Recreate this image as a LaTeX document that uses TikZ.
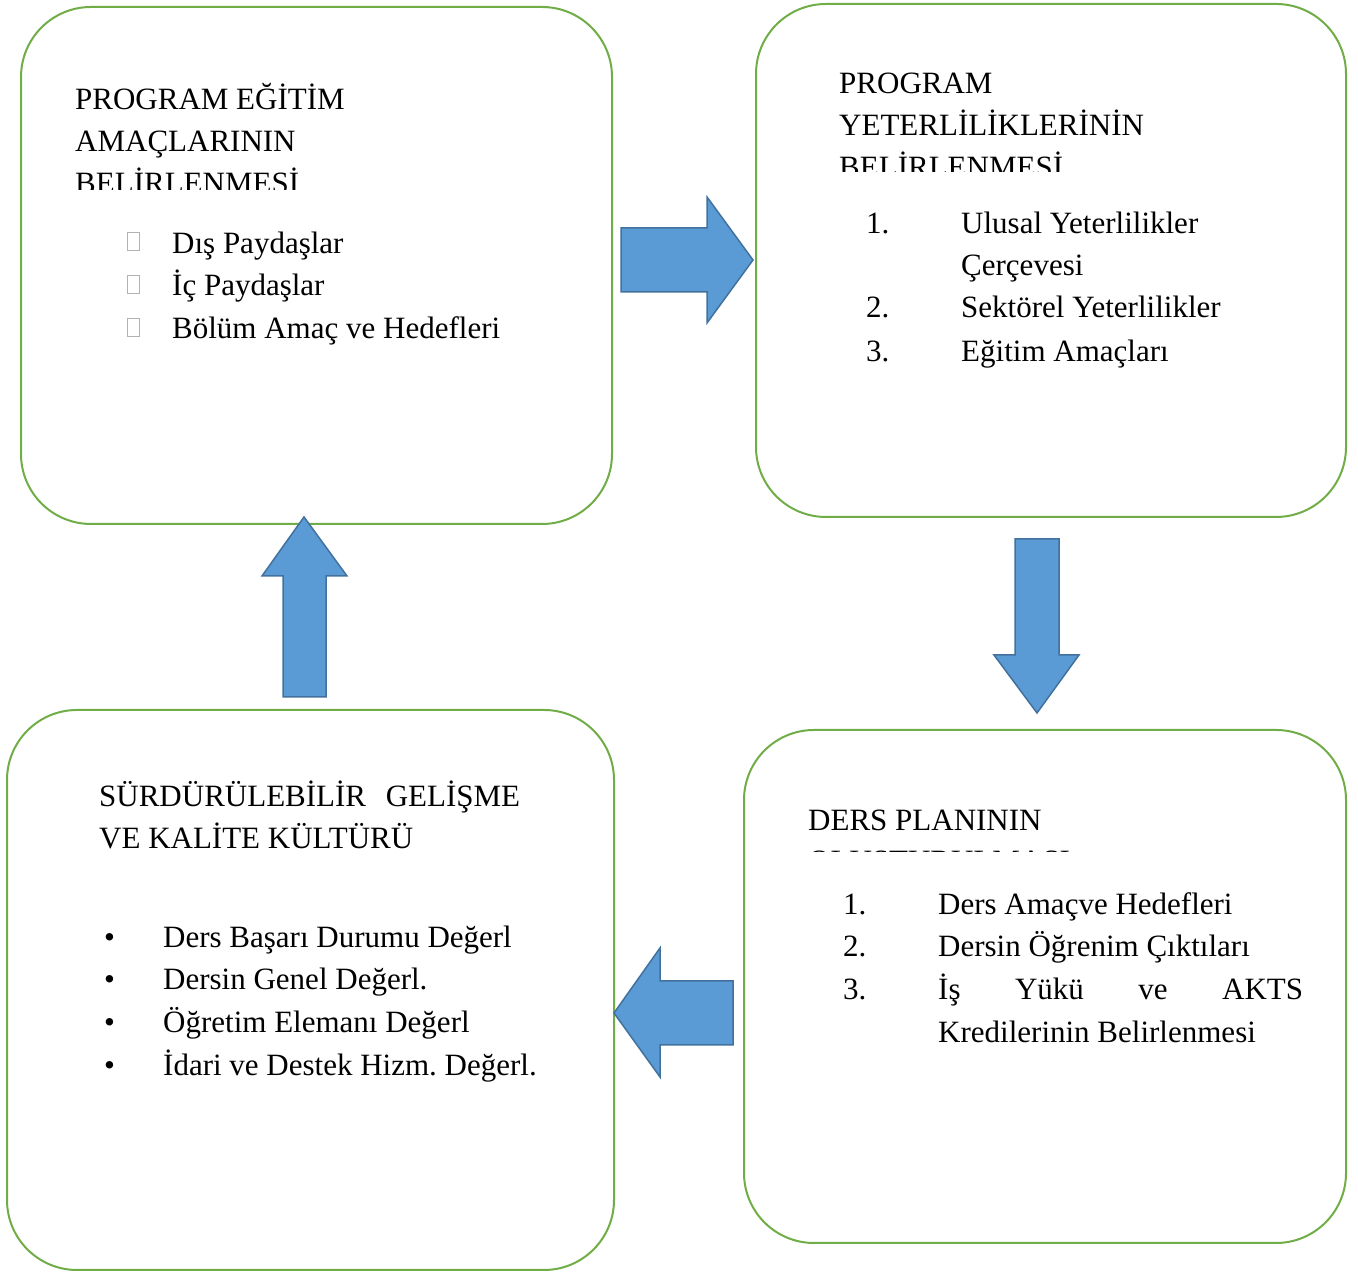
\documentclass[tikz,border=0pt]{standalone}
\usepackage{fontspec}
\setmainfont{Liberation Serif}
\frenchspacing

\definecolor{boxgreen}{HTML}{70AD47}
\definecolor{arrowblue}{HTML}{5B9BD5}
\definecolor{arrowedge}{HTML}{41719C}

\tikzset{
  stagebox/.style={draw=boxgreen, line width=2pt, rounded corners=70pt, inner sep=0pt},
  blockarrow/.style={fill=arrowblue, draw=arrowedge, line width=1.5pt, line join=miter},
  txt/.style={anchor=base west, inner sep=0pt},
  tofu/.style={draw=gray!60, line width=0.8pt, minimum width=12pt, minimum height=18pt, inner sep=0pt}
}

\begin{document}
\begin{tikzpicture}[x=1pt, y=1pt, font=\fontsize{31}{38}\selectfont]
\useasboundingbox (0,0) rectangle (1358,1273);

% the four stages
\node[stagebox, minimum width=591pt, minimum height=517pt] (amac) at (316.5,1007.5) {};
\node[stagebox, minimum width=590pt, minimum height=513pt] (yeter) at (1051,1012.5) {};
\node[stagebox, minimum width=602pt, minimum height=513pt] (ders) at (1045,286.5) {};
\node[stagebox, minimum width=607pt, minimum height=560pt] (kalite) at (310.5,283) {};

% block arrows between the stages
\draw[blockarrow] (621,1045) -- (707,1045) -- (707,1076) -- (753,1013) -- (707,950) -- (707,981) -- (621,981) -- cycle;
\draw[blockarrow] (1015,734) -- (1059,734) -- (1059,618) -- (1079,618) -- (1037,560) -- (994,618) -- (1015,618) -- cycle;
\draw[blockarrow] (733,292) -- (660,292) -- (660,325) -- (614,260) -- (660,196) -- (660,228) -- (733,228) -- cycle;
\draw[blockarrow] (283,576) -- (283,697) -- (262,697) -- (304,756) -- (347,697) -- (326,697) -- (326,576) -- cycle;

% program egitim amaclari
\node[txt] (amac-t1) at (75,1163) {PROGRAM EĞİTİM};
\node[txt] (amac-t2) at (75,1121) {AMAÇLARININ};
\begin{scope}
\clip (21,1083) rectangle (612,1110);
\node[txt] (amac-t3) at (75,1079) {BELİRLENMESİ};
\end{scope}

\node[tofu] (amac-b1) at (133.5,1031.5) {};
\node[txt] (amac-i1) at (172,1019) {Dış Paydaşlar};
\node[tofu] (amac-b2) at (133.5,989) {};
\node[txt] (amac-i2) at (172,977) {İç Paydaşlar};
\node[tofu] (amac-b3) at (133.5,945.5) {};
\node[txt] (amac-i3) at (172,934) {Bölüm Amaç ve Hedefleri};

% program yeterlilikleri
\node[txt] (yeter-t1) at (839,1179) {PROGRAM};
\node[txt] (yeter-t2) at (839,1137) {YETERLİLİKLERİNİN};
\begin{scope}
\clip (756,1101) rectangle (1346,1130);
\node[txt] (yeter-t3) at (839,1095) {BELİRLENMESİ};
\end{scope}

\node[txt] (yeter-n1) at (866,1039) {1.};
\node[txt] (yeter-i1) at (961,1039) {Ulusal Yeterlilikler};
\node[txt] (yeter-i1b) at (961,997) {Çerçevesi};
\node[txt] (yeter-n2) at (866,955) {2.};
\node[txt] (yeter-i2) at (961,955) {Sektörel Yeterlilikler};
\node[txt] (yeter-n3) at (866,911) {3.};
\node[txt] (yeter-i3) at (961,911) {Eğitim Amaçları};

% ders plani
\node[txt] (ders-t1) at (808,442) {DERS PLANININ};
\begin{scope}
\clip (744,421) rectangle (1346,435);
\node[txt] (ders-t2) at (808,401) {OLUŞTURULMASI};
\end{scope}

\node[txt] (ders-n1) at (843,358) {1.};
\node[txt] (ders-i1) at (938,358) {Ders Amaçve Hedefleri};
\node[txt] (ders-n2) at (843,316) {2.};
\node[txt] (ders-i2) at (938,316) {Dersin Öğrenim Çıktıları};
\node[txt] (ders-n3) at (843,273) {3.};
\node[txt] (ders-i3) at (938,273) {\hbox to 365pt{İş\hfill Yükü\hfill ve\hfill AKTS}};
\node[txt] (ders-i3b) at (938,230) {Kredilerinin Belirlenmesi};

% kalite kulturu
\node[txt] (kalite-t1) at (99,466) {\hbox to 421pt{SÜRDÜRÜLEBİLİR\hfill GELİŞME}};
\node[txt] (kalite-t2) at (99,424) {VE KALİTE KÜLTÜRÜ};

\node[txt] (kalite-b1) at (104,325) {•};
\node[txt] (kalite-i1) at (163,325) {Ders Başarı Durumu Değerl};
\node[txt] (kalite-b2) at (104,283) {•};
\node[txt] (kalite-i2) at (163,283) {Dersin Genel Değerl.};
\node[txt] (kalite-b3) at (104,240) {•};
\node[txt] (kalite-i3) at (163,240) {Öğretim Elemanı Değerl};
\node[txt] (kalite-b4) at (104,197) {•};
\node[txt] (kalite-i4) at (163,197) {İdari ve Destek Hizm. Değerl.};
\end{tikzpicture}
\end{document}
